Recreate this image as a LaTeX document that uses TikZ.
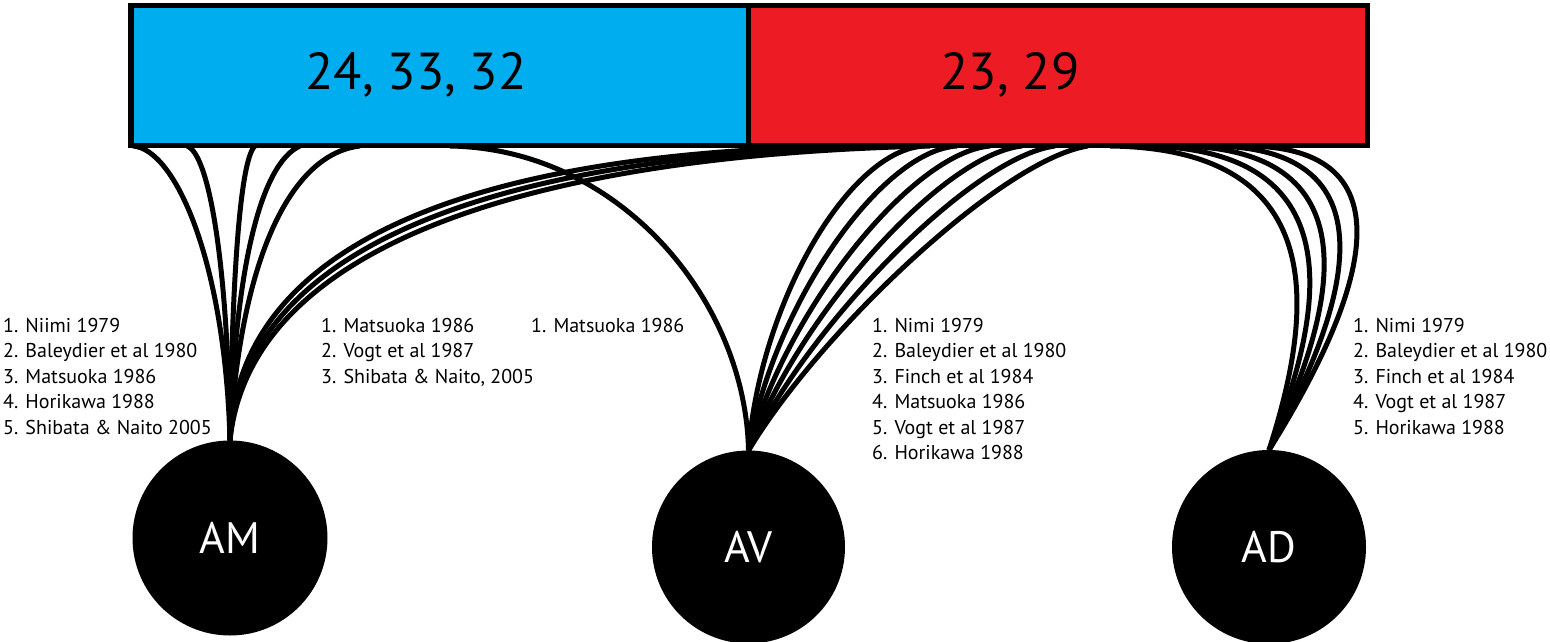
\documentclass[tikz,border=0pt]{standalone}
\usepackage{fontspec}
\setmainfont{PT Sans}
\definecolor{cblue}{RGB}{0,174,239}
\definecolor{cred}{RGB}{237,28,36}
\begin{document}
\begin{tikzpicture}[x=1pt,y=-1pt,
  box/.style={draw=black,line width=5.5pt,minimum height=140pt,inner sep=0pt,outer sep=0pt,anchor=north west},
  area/.style={circle,fill=black,inner sep=0pt,outer sep=0pt,text=white,font=\fontsize{44}{50}\selectfont},
  link/.style={draw=black,line width=5pt},
  ref/.style={anchor=base west,inner sep=0pt,font=\fontsize{20}{24}\selectfont},
  big/.style={inner sep=0pt,font=\fontsize{52}{60}\selectfont}]
\useasboundingbox (0,0) rectangle (1550,642);

% circles
\node[area,minimum size=195pt] (am) at (230,538) {AM};
\node[area,minimum size=193pt] (av) at (748.5,547) {AV};
\node[area,minimum size=194pt] (ad) at (1269,547) {AD};

% start points on box bottom
\foreach \n/\x in {b1/133,b2/187,b3/255,b4/300,b5/360,bv/450,
  r1/870,r2/900,r3/930,
  v1/925,v2/957,v3/990,v4/1022,v5/1055,v6/1088,
  d1/1110,d2/1145,d3/1180,d4/1215,d5/1250}
  \coordinate (\n) at (\x,146);

% AM from blue
\draw[link] (b1) .. controls +(42,3) and +(-5,-180) .. (am.north);
\draw[link] (b2) .. controls +(23,8) and +(-2,-170) .. (am.north);
\draw[link] (b3) .. controls +(-15,13) and +(2,-160) .. (am.north);
\draw[link] (b4) .. controls +(-40,18) and +(5,-170) .. (am.north);
\draw[link] (b5) .. controls +(-70,8) and +(10,-180) .. (am.north);
% AM from red
\draw[link] (r1) .. controls +(-380,3) and +(8,-205) .. (am.north);
\draw[link] (r2) .. controls +(-390,6) and +(14,-200) .. (am.north);
\draw[link] (r3) .. controls +(-400,9) and +(20,-195) .. (am.north);
% AV from blue
\draw[link] (bv) .. controls +(170,3) and +(-3,-150) .. (av.north);
% AV from red
\foreach \i in {1,...,6}{
  \draw[link] (v\i) .. controls +({-75-2*(\i-1)},{3+2*(\i-1)}) and +({12+12*(\i-1)},{-150+6*(\i-1)}) .. (av.north);
}
% AD from red
\foreach \i in {1,...,5}{
  \draw[link] (d\i) .. controls +({230-15*(\i-1)},3) and +({40+12*(\i-1)},{-125-4*(\i-1)}) .. (ad.north);
}

% boxes
\node[box,fill=cblue,minimum width=617.5pt] (blue) at (131,5.5) {};
\node[box,fill=cred,minimum width=619pt] (red) at (748.5,5.5) {};
\node[big] at (416,75) {24, 33, 32};
\node[big] at (1010,75) {23, 29};

% reference lists
\foreach \t [count=\k] in {1. Niimi 1979,2. Baleydier et al 1980,3. Matsuoka 1986,4. Horikawa 1988,5. Shibata \& Naito 2005}
  \node[ref] (amref\k) at (3,{332.5+25.4*(\k-1)}) {\t};
\foreach \t [count=\k] in {1. Matsuoka 1986,2. Vogt et al 1987,{3. Shibata \& Naito, 2005}}
  \node[ref] (amref2\k) at (321,{332.5+25.4*(\k-1)}) {\t};
\node[ref] (avref0) at (531,332.5) {1. Matsuoka 1986};
\foreach \t [count=\k] in {1. Nimi 1979,2. Baleydier et al 1980,3. Finch et al 1984,4. Matsuoka 1986,5. Vogt et al 1987,6. Horikawa 1988}
  \node[ref] (avref\k) at (872,{332.5+25.4*(\k-1)}) {\t};
\foreach \t [count=\k] in {1. Nimi 1979,2. Baleydier et al 1980,3. Finch et al 1984,4. Vogt et al 1987,5. Horikawa 1988}
  \node[ref] (adref\k) at (1353,{332.5+25.4*(\k-1)}) {\t};
\end{tikzpicture}
\end{document}
